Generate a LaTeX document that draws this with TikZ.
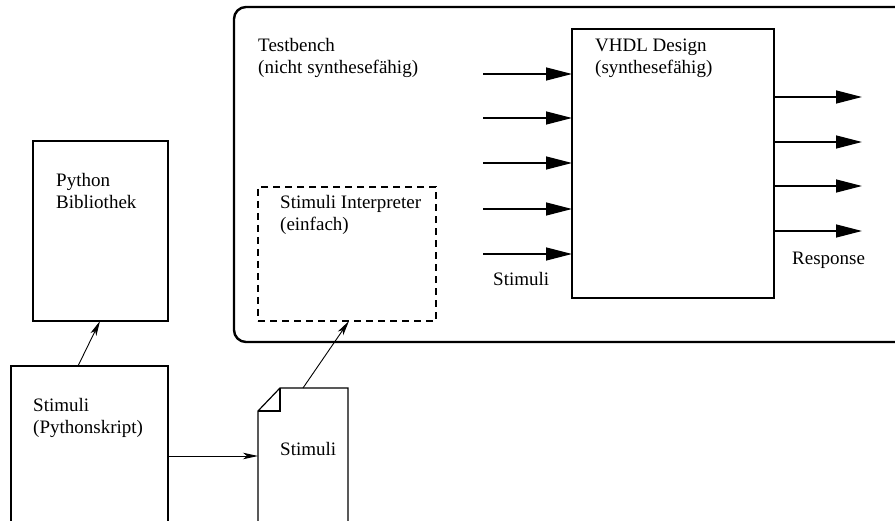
\documentclass[tikz,border=0pt]{standalone}
\usepackage{fontspec}
\setmainfont{Liberation Serif}
\usetikzlibrary{arrows.meta}
\begin{document}
\begin{tikzpicture}[x=1pt,y=-1pt,
  box/.style={draw, line width=1.2pt, inner sep=0pt, outer sep=0pt},
  lbl/.style={font=\fontsize{19}{21.5}\selectfont, align=left, inner sep=0pt, anchor=base west},
  bigarrow/.style={line width=1.4pt, -{Triangle[length=26pt,width=13pt]}},
  thinarrow/.style={line width=0.9pt, -{Stealth[length=15pt,width=6.5pt,inset=4pt]}}]
\useasboundingbox (0,0) rectangle (895,521);
\clip (0,0) rectangle (895,521);
% testbench frame
\node[box, line width=2.4pt, rounded corners=12pt, anchor=north west,
      minimum width=690pt, minimum height=335pt] (tb) at (234,7) {};
\node[lbl] (tbl) at (258,73.5) {Testbench\\(nicht synthesef\"ahig)};
% VHDL design
\node[box, line width=2.2pt, anchor=north west, minimum width=202pt, minimum height=269pt] (vhdl) at (572,29) {};
\node[lbl] (vhdll) at (595,73.5) {VHDL Design\\(synthesef\"ahig)};
% interpreter
\node[box, dash pattern=on 7pt off 5pt, anchor=north west, minimum width=178pt, minimum height=134pt] (interp) at (258,187) {};
\node[lbl] (interpl) at (280,230.5) {Stimuli Interpreter\\(einfach)};
% python library
\node[box, anchor=north west, minimum width=135pt, minimum height=180pt] (pyb) at (33,141) {};
\node[lbl] (pybl) at (56,208.5) {Python\\Bibliothek};
% stimuli script
\node[box, anchor=north west, minimum width=157pt, minimum height=180pt] (stim) at (11,366) {};
\node[lbl] (stiml) at (33,433.5) {Stimuli\\(Pythonskript)};
% stimuli document
\node[inner sep=0pt, outer sep=0pt, anchor=north west, minimum width=90pt, minimum height=160pt] (doc) at (258,388) {};
\draw[line width=1.2pt, line join=miter]
  (doc.south west) -- ([yshift=-23pt]doc.north west) -- ([xshift=22pt]doc.north west)
  -- (doc.north east) -- (doc.south east);
\draw[line width=1.2pt]
  ([yshift=-23pt]doc.north west) -- ([xshift=22pt,yshift=-23pt]doc.north west) -- ([xshift=22pt]doc.north west);
\node[lbl] (docl) at (280,456) {Stimuli};
% inputs
\foreach \i/\yy in {1/74,2/118,3/163,4/209,5/254}{
  \coordinate (in\i) at (483,\yy);
  \draw[bigarrow] (in\i) -- (in\i -| vhdl.west);
}
\node[lbl] (stimlbl) at (493,286) {Stimuli};
% outputs
\foreach \i/\yy in {1/97,2/142,3/186,4/231}{
  \coordinate (out\i) at (862,\yy);
  \draw[bigarrow] (out\i -| vhdl.east) -- (out\i);
}
\node[lbl] (resp) at (792,265) {Response};
% thin arrows
\draw[thinarrow] ([xshift=67pt]stim.north west) -- ([xshift=67pt]pyb.south west);
\draw[thinarrow] (stim.east) -- (stim.east -| doc.west);
\draw[thinarrow] ([xshift=45pt]doc.north west) -- ([xshift=91pt]interp.south west);
\end{tikzpicture}
\end{document}
